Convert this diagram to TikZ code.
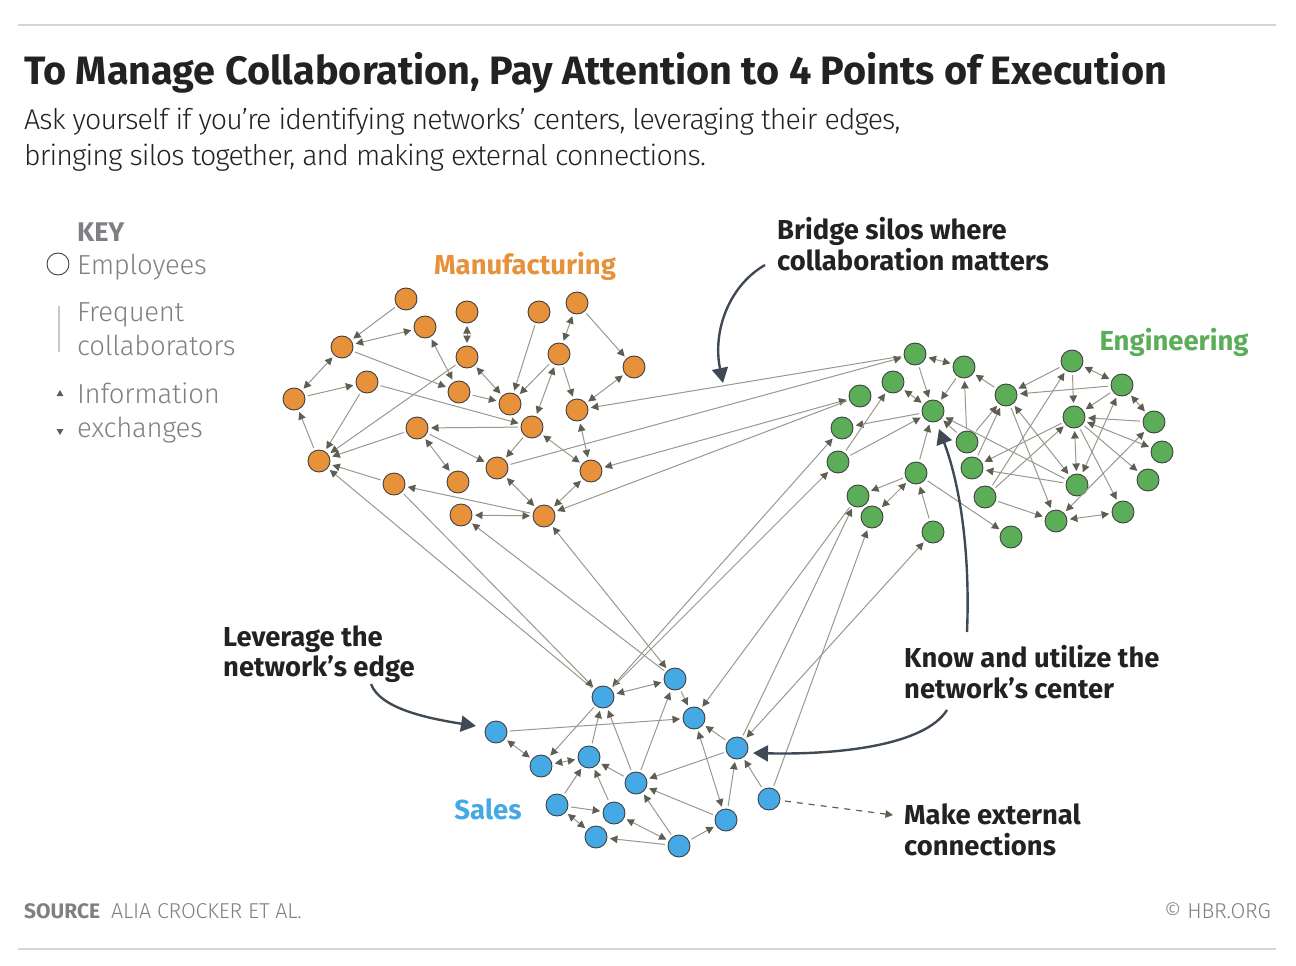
\documentclass[tikz,border=0pt]{standalone}
\usepackage{fontspec}
\usepackage{xcolor}
\setmainfont{Fira Sans}
\newfontfamily\lightfont[LetterSpace=-0.9]{Fira Sans Light}
\newfontfamily\tightfont[LetterSpace=-3.1]{Fira Sans Light}
\usetikzlibrary{arrows.meta,shapes.geometric}

\definecolor{manorange}{HTML}{E8913B}
\definecolor{enggreen}{HTML}{5BAE57}
\definecolor{salesblue}{HTML}{45A9E6}
\definecolor{linkgray}{HTML}{98988E}
\definecolor{tipgray}{HTML}{5E5E52}
\definecolor{calloutdark}{HTML}{3F4A55}
\definecolor{keygray}{HTML}{7E8084}
\definecolor{inkblack}{HTML}{222222}

\tikzset{
  staff/.style={circle, draw=black!75, line width=0.9pt, minimum size=22pt, inner sep=0pt, outer sep=3pt},
  man/.style={staff, fill=manorange},
  eng/.style={staff, fill=enggreen},
  sal/.style={staff, fill=salesblue},
  oneway/.style={draw=linkgray, line width=1pt, -{Triangle[length=7.5pt,width=7.5pt,color=tipgray]}},
  twoway/.style={draw=linkgray, line width=1pt, {Triangle[length=7.5pt,width=7.5pt,color=tipgray]}-{Triangle[length=7.5pt,width=7.5pt,color=tipgray]}},
  callout/.style={draw=calloutdark, line width=2.4pt, -{Triangle[length=15pt,width=16pt,color=calloutdark]}},
  rulegray/.style={draw=black!17, line width=1.8pt},
  headline/.style={anchor=west, inner sep=0pt, text=inkblack, font=\fontsize{39.6}{44}\selectfont\bfseries},
  subhead/.style={anchor=west, align=left, inner sep=0pt, text=inkblack, font=\tightfont\fontsize{28.5}{36}\selectfont},
  note/.style={anchor=west, align=left, inner sep=0pt, text=inkblack, font=\fontsize{27.4}{30.5}\selectfont\bfseries},
  keytext/.style={anchor=west, align=left, inner sep=0pt, text=keygray, font=\lightfont\fontsize{27.5}{33.5}\selectfont},
  group/.style={anchor=center, inner sep=0pt, font=\fontsize{27.5}{30}\selectfont\bfseries},
  foot/.style={anchor=west, inner sep=0pt, text=keygray, font=\fontsize{21}{24}\selectfont},
}

\begin{document}
\begin{tikzpicture}[x=1pt,y=-1pt]
  \useasboundingbox (0,0) rectangle (1296,966);

  \draw[rulegray] (18,25) -- (1276,25);
  \draw[rulegray] (18,949) -- (1276,949);

  \node (title) [headline] at (24,73) {To Manage Collaboration, Pay Attention to 4 Points of Execution};
  \node (subtitle) [subhead] at (24,140) {Ask yourself if you’re identifying networks’ centers, leveraging their edges,\\bringing silos together, and making external connections.};

  \node (keyhead) [keytext, font=\fontsize{27}{30}\selectfont\bfseries] at (77,232) {KEY};
  \node (keyring) [circle, draw=black!75, line width=0.9pt, minimum size=22pt, inner sep=0pt] at (58,264) {};
  \node (keystaff) [keytext] at (77,267) {Employees};
  \coordinate (keylinetop) at (59,306);
  \coordinate (keylinebot) at (59,352);
  \draw[draw=black!22, line width=1.2pt] (keylinetop) -- (keylinebot);
  \node (keylink) [keytext] at (77,329) {Frequent\\collaborators};
  \node (keyup) [regular polygon, regular polygon sides=3, fill=tipgray, inner sep=0pt, minimum size=8pt] at (60,394) {};
  \node (keydown) [regular polygon, regular polygon sides=3, shape border rotate=180, fill=tipgray, inner sep=0pt, minimum size=8pt] at (60,431) {};
  \node (keyinfo) [keytext] at (77,413) {Information\\exchanges};

  \node (mangroup) [group, text=manorange] at (525,266) {Manufacturing};
  \node (enggroup) [group, text=enggreen] at (1174,342) {Engineering};
  \node (salgroup) [group, text=salesblue] at (488,809) {Sales};

  \node (m1) [man] at (406,299) {};
  \node (m2) [man] at (425,327) {};
  \node (m3) [man] at (467,312) {};
  \node (m4) [man] at (539,312) {};
  \node (m5) [man] at (577,303) {};
  \node (m6) [man] at (342,347) {};
  \node (m7) [man] at (467,357) {};
  \node (m8) [man] at (559,354) {};
  \node (m9) [man] at (634,367) {};
  \node (m10) [man] at (294,399) {};
  \node (m11) [man] at (367,382) {};
  \node (m12) [man] at (459,392) {};
  \node (m13) [man] at (510,404) {};
  \node (m14) [man] at (577,410) {};
  \node (m15) [man] at (417,428) {};
  \node (m16) [man] at (532,427) {};
  \node (m17) [man] at (319,461) {};
  \node (m18) [man] at (497,468) {};
  \node (m19) [man] at (591,471) {};
  \node (m20) [man] at (458,482) {};
  \node (m21) [man] at (394,484) {};
  \node (m22) [man] at (461,515) {};
  \node (m23) [man] at (544,516) {};

  \node (g1) [eng] at (915,354) {};
  \node (g2) [eng] at (964,367) {};
  \node (g3) [eng] at (1072,361) {};
  \node (g4) [eng] at (1122,385) {};
  \node (g5) [eng] at (893,382) {};
  \node (g6) [eng] at (860,396) {};
  \node (g7) [eng] at (1006,395) {};
  \node (g8) [eng] at (933,411) {};
  \node (g9) [eng] at (1074,417) {};
  \node (g10) [eng] at (1154,422) {};
  \node (g11) [eng] at (842,428) {};
  \node (g12) [eng] at (967,442) {};
  \node (g13) [eng] at (1162,452) {};
  \node (g14) [eng] at (838,462) {};
  \node (g15) [eng] at (972,468) {};
  \node (g16) [eng] at (916,473) {};
  \node (g17) [eng] at (1148,480) {};
  \node (g18) [eng] at (1077,485) {};
  \node (g19) [eng] at (858,496) {};
  \node (g20) [eng] at (985,497) {};
  \node (g21) [eng] at (872,517) {};
  \node (g22) [eng] at (1123,512) {};
  \node (g23) [eng] at (1056,521) {};
  \node (g24) [eng] at (933,532) {};
  \node (g25) [eng] at (1011,537) {};

  \node (b1) [sal] at (603,697) {};
  \node (b2) [sal] at (675,679) {};
  \node (b3) [sal] at (694,718) {};
  \node (b4) [sal] at (496,732) {};
  \node (b5) [sal] at (737,748) {};
  \node (b6) [sal] at (589,757) {};
  \node (b7) [sal] at (541,766) {};
  \node (b8) [sal] at (636,783) {};
  \node (b9) [sal] at (557,805) {};
  \node (b10) [sal] at (769,799) {};
  \node (b11) [sal] at (614,813) {};
  \node (b12) [sal] at (726,820) {};
  \node (b13) [sal] at (596,837) {};
  \node (b14) [sal] at (679,846) {};

  \path
    (m1) edge[oneway] (m6)
    (m6) edge[twoway] (m2)
    (m2) edge[twoway] (m12)
    (m3) edge[twoway] (m7)
    (m7) edge[twoway] (m13)
    (m4) edge[oneway] (m13)
    (m5) edge[twoway] (m8)
    (m5) edge[oneway] (m9)
    (m8) edge[oneway] (m13)
    (m8) edge[oneway] (m14)
    (m8) edge[twoway] (m16)
    (m9) edge[twoway] (m14)
    (m6) edge[twoway] (m10)
    (m6) edge[oneway] (m12)
    (m11) edge[oneway] (m16)
    (m10) edge[oneway] (m11)
    (m11) edge[oneway] (m17)
    (m7) edge[oneway] (m17)
    (m12) edge[oneway] (m13)
    (m15) edge[oneway] (m17)
    (m16) edge[oneway] (m15)
    (m15) edge[oneway] (m18)
    (m15) edge[twoway] (m20)
    (m16) edge[oneway] (m18)
    (m16) edge[twoway] (m19)
    (m14) edge[twoway] (m19)
    (m17) edge[oneway] (m10)
    (m21) edge[oneway] (m17)
    (m23) edge[oneway] (m21)
    (m18) edge[twoway] (m23)
    (m19) edge[twoway] (m23)
    (m22) edge[twoway] (m23);

  \path
    (g1) edge[twoway] (g2)
    (g1) edge[oneway] (g8)
    (g2) edge[oneway] (g8)
    (g7) edge[oneway] (g2)
    (g5) edge[twoway] (g8)
    (g8) edge[oneway] (g11)
    (g14) edge[oneway] (g8)
    (g14) edge[oneway] (g5)
    (g12) edge[oneway] (g8)
    (g12) edge[oneway] (g2)
    (g12) edge[oneway] (g7)
    (g15) edge[oneway] (g7)
    (g16) edge[oneway] (g8)
    (g16) edge[oneway] (g19)
    (g16) edge[twoway] (g21)
    (g24) edge[oneway] (g16)
    (g16) edge[oneway] (g25)
    (g18) edge[oneway] (g8)
    (g7) edge[twoway] (g18)
    (g7) edge[oneway] (g23)
    (g3) edge[oneway] (g7)
    (g4) edge[oneway] (g7)
    (g3) edge[twoway] (g4)
    (g3) edge[oneway] (g9)
    (g4) edge[oneway] (g9)
    (g4) edge[twoway] (g18)
    (g4) edge[twoway] (g10)
    (g9) edge[oneway] (g15)
    (g20) edge[oneway] (g9)
    (g20) edge[oneway] (g3)
    (g18) edge[oneway] (g15)
    (g18) edge[twoway] (g9)
    (g10) edge[oneway] (g9)
    (g9) edge[twoway] (g13)
    (g9) edge[oneway] (g17)
    (g9) edge[oneway] (g22)
    (g20) edge[oneway] (g23)
    (g23) edge[twoway] (g22)
    (g10) edge[twoway] (g23);

  \path
    (b1) edge[twoway] (b2)
    (b2) edge[oneway] (b3)
    (b4) edge[oneway] (b3)
    (b1) edge[oneway] (b7)
    (b6) edge[oneway] (b1)
    (b8) edge[oneway] (b1)
    (b8) edge[oneway] (b2)
    (b5) edge[oneway] (b3)
    (b3) edge[twoway] (b12)
    (b4) edge[twoway] (b7)
    (b7) edge[twoway] (b6)
    (b8) edge[oneway] (b6)
    (b5) edge[oneway] (b8)
    (b12) edge[oneway] (b8)
    (b12) edge[oneway] (b5)
    (b10) edge[oneway] (b5)
    (b9) edge[oneway] (b6)
    (b11) edge[oneway] (b6)
    (b9) edge[oneway] (b11)
    (b9) edge[twoway] (b13)
    (b14) edge[oneway] (b13)
    (b14) edge[twoway] (b11)
    (b14) edge[oneway] (b8)
    (b14) edge[oneway] (b12);

  \path
    (g1) edge[oneway] (m14)
    (m18) edge[oneway] (g1)
    (g6) edge[twoway] (m19)
    (g6) edge[oneway] (m23)
    (b1) edge[oneway] (m17)
    (m21) edge[oneway] (b1)
    (b2) edge[oneway] (m22)
    (m23) edge[twoway] (b2)
    (b1) edge[twoway] (g11)
    (b1) edge[oneway] (g14)
    (g19) edge[oneway] (b3)
    (b5) edge[oneway] (g19)
    (b10) edge[oneway] (g21)
    (b5) edge[twoway] (g24);

  \node (bridge) [note] at (777,244) {Bridge silos where\\collaboration matters};
  \node (edgetext) [note] at (223,654) {Leverage the\\network’s edge};
  \node (centertext) [note] at (904,672) {Know and utilize the\\network’s center};
  \node (outsidetext) [note] at (904,830) {Make external\\connections};

  \coordinate (bridgefrom) at (765,265);
  \coordinate (bridgeto) at (723,383);
  \coordinate (edgefrom) at (371,684);
  \coordinate (edgeto) at (476,726);
  \coordinate (knowfrom) at (947,710);
  \coordinate (knowto) at (753,753);
  \coordinate (centerfrom) at (967,632);
  \coordinate (centerto) at (939,429);
  \coordinate (outsideto) at (893,815);

  \draw[callout] (bridgefrom) .. controls (730,285) and (712,330) .. (bridgeto);
  \draw[callout] (edgefrom) .. controls (380,708) and (425,718) .. (edgeto);
  \draw[callout] (knowfrom) .. controls (925,745) and (840,755) .. (knowto);
  \draw[callout] (centerfrom) .. controls (970,560) and (962,490) .. (centerto);
  \draw[oneway, draw=tipgray, line width=1.2pt, dash pattern=on 6pt off 6pt, shorten <=2pt] (b10) -- (outsideto);

  \node (source) [foot, font=\fontsize{21}{24}\selectfont\bfseries] at (24,911) {SOURCE};
  \node (sourcename) [foot, font=\lightfont\fontsize{21.5}{24}\selectfont] at (111,911) {ALIA CROCKER ET AL.};
  \node (hbr) [foot, anchor=east, font=\lightfont\fontsize{21.5}{24}\selectfont] at (1271,911) {© HBR.ORG};
\end{tikzpicture}
\end{document}
